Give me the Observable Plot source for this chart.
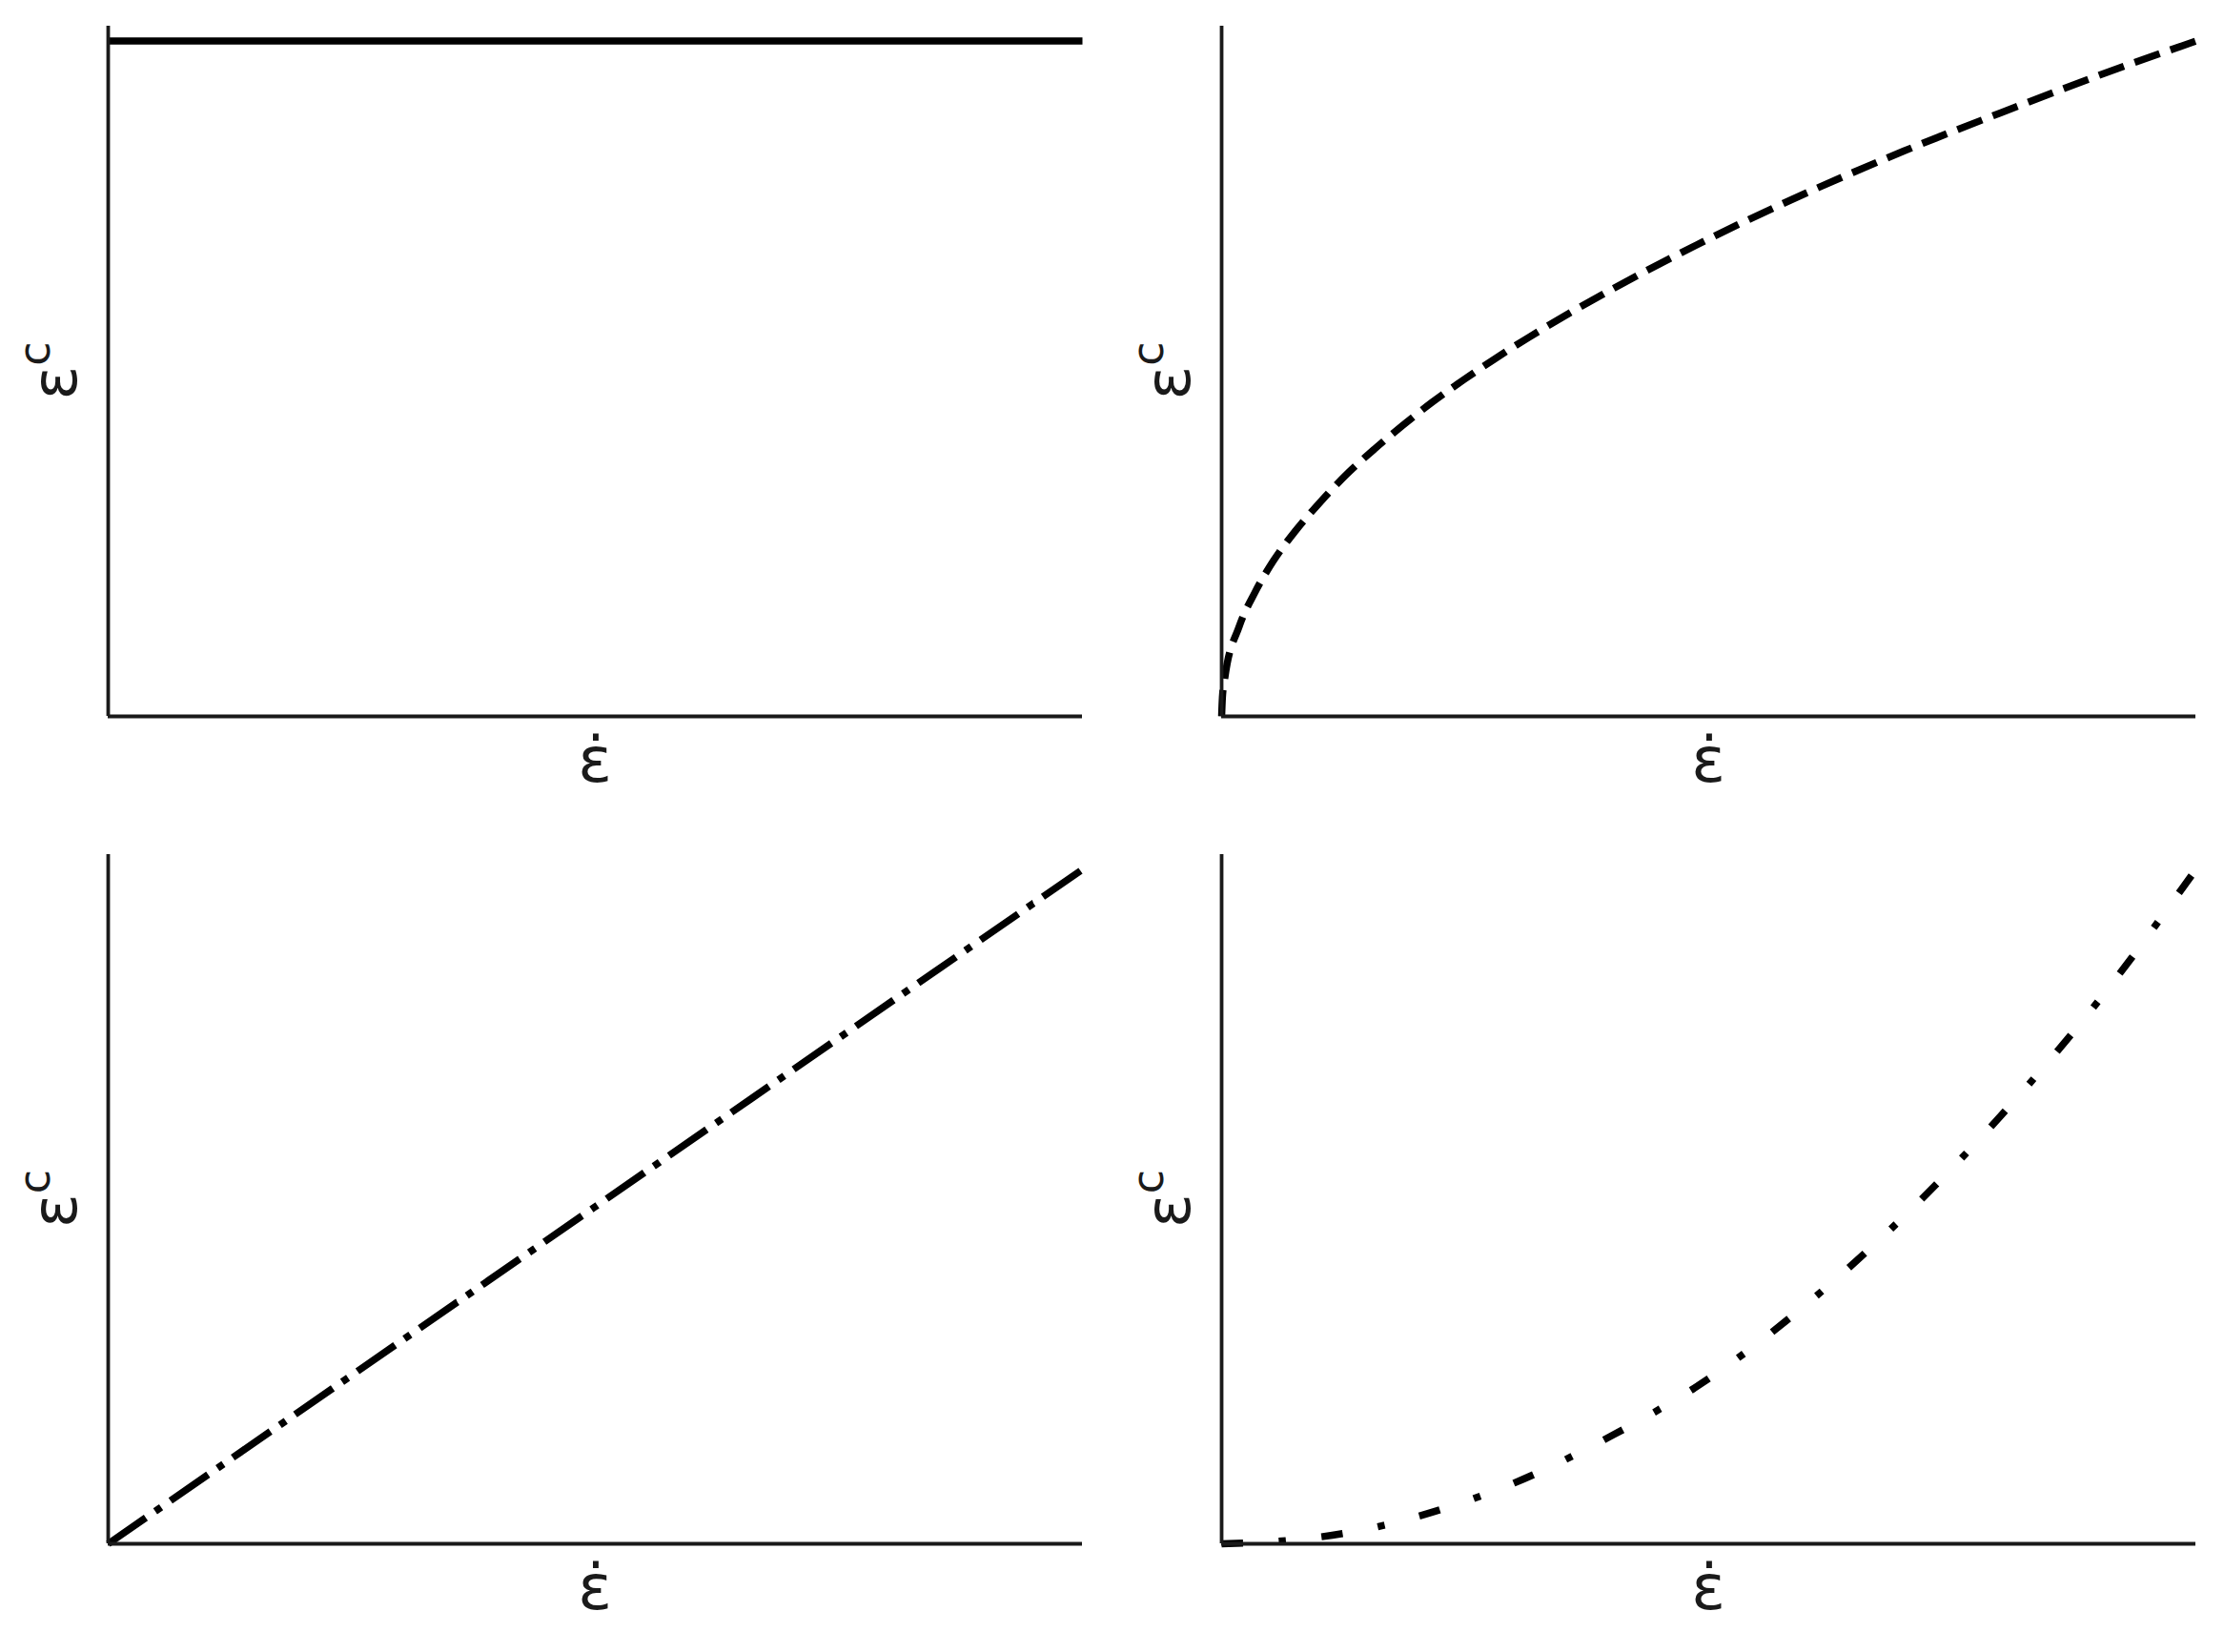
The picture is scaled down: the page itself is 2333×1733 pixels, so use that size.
<!DOCTYPE html>
<html>
<head>
<meta charset="utf-8">
<script src="https://cdn.jsdelivr.net/npm/d3@7"></script>
<script src="https://cdn.jsdelivr.net/npm/@observablehq/plot@0.6"></script>
<style>
  html, body { margin: 0; padding: 0; background: #fff; }
  #root { position: relative; width: 2333px; height: 1733px; background: #fff; font-family: "DejaVu Sans", sans-serif; }
  #root > div { position: absolute; }
</style>
</head>
<body>
<div id="root"></div>
<script>
// ---- data (x = strain rate, y = critical strain, normalised) ----
const xConst = [0, 1];
const yConst = [1, 1];

const xSqrt = [0, 0.0008, 0.0033, 0.018, 0.034, 0.053, 0.076, 0.101, 0.128, 0.157, 0.186, 0.216, 0.249, 0.281, 0.315, 0.4, 0.5, 0.6, 0.7, 0.8, 0.9, 1.0];
const ySqrt = [0, 0.028, 0.057, 0.133, 0.183, 0.230, 0.275, 0.317, 0.358, 0.396, 0.431, 0.465, 0.499, 0.530, 0.561, 0.632, 0.707, 0.775, 0.837, 0.894, 0.949, 1.0];

const xLin = [0, 0.25, 0.5, 0.75, 1.0];
const yLin = [0, 0.25, 0.5, 0.75, 1.0];

const xQuad = [0, 0.05, 0.1, 0.15, 0.2, 0.3, 0.4, 0.5, 0.6, 0.7, 0.8, 0.9, 1.0];
const yQuad = [0, 0.003, 0.01, 0.022, 0.04, 0.09, 0.16, 0.245, 0.355, 0.485, 0.635, 0.805, 1.0];

const xLabel = "ε\u0307";
const yLabelMain = "ε";
const yLabelSup = "c";

const zip = (xs, ys) => xs.map((x, i) => ({x, y: ys[i]}));

const lw = 7.5;
const panels = [
  {data: zip(xConst, yConst), dash: null, left: 0, top: 0, ml: 113, mr: 31, mt: 27, mb: 115},
  {data: zip(xSqrt, ySqrt), dash: [3.7*lw, 1.6*lw], left: 1167, top: 0, ml: 114, mr: 30, mt: 27, mb: 115},
  {data: zip(xLin, yLin), dash: [6.4*lw, 1.6*lw, 1*lw, 1.6*lw], left: 0, top: 866, ml: 113, mr: 31, mt: 30, mb: 113},
  {data: zip(xQuad, yQuad), dash: [3*lw, 5*lw, 1*lw, 5*lw], left: 1167, top: 866, ml: 114, mr: 30, mt: 30, mb: 113}
];

const W = 1166, H = 866;
const root = document.getElementById("root");
const axisColor = "#1a1a1a";

for (const p of panels) {
  const chart = Plot.plot({
    width: W, height: H,
    marginLeft: p.ml, marginRight: p.mr, marginTop: p.mt, marginBottom: p.mb,
    style: {fontFamily: "DejaVu Sans", background: "white"},
    x: {domain: [0, 1], axis: null},
    y: {domain: [0, 1.022], axis: null},
    marks: [
      Plot.line(p.data, {x: "x", y: "y", curve: "monotone-x", stroke: "black", strokeWidth: lw,
        strokeLinecap: "butt", strokeLinejoin: "round",
        strokeDasharray: p.dash ? p.dash.join(",") : undefined}),
      Plot.ruleX([0], {stroke: axisColor, strokeWidth: 3.8}),
      Plot.ruleY([0], {x1: 0, x2: 1, stroke: axisColor, strokeWidth: 3.8})
    ]
  });
  const svg = d3.select(chart);
  const cx = p.ml + (W - p.ml - p.mr) / 2;
  const cy = p.mt + (H - p.mt - p.mb) / 2;
  // x label
  svg.append("text")
    .attr("x", cx).attr("y", H - p.mb + 69)
    .attr("text-anchor", "middle")
    .attr("fill", axisColor)
    .style("font-family", "DejaVu Sans")
    .style("font-size", "66px")
    .text(xLabel);
  // y label
  const t = svg.append("text")
    .attr("transform", `translate(${p.ml - 33},${cy}) rotate(-90)`)
    .attr("text-anchor", "middle")
    .attr("fill", axisColor)
    .style("font-family", "DejaVu Sans")
    .style("font-size", "66px");
  t.append("tspan").text(yLabelMain);
  t.append("tspan").attr("dy", "-0.6em").style("font-size", "46px").text(yLabelSup);

  const holder = document.createElement("div");
  holder.style.left = p.left + "px";
  holder.style.top = p.top + "px";
  holder.appendChild(chart);
  root.appendChild(holder);
}
</script>
</body>
</html>
